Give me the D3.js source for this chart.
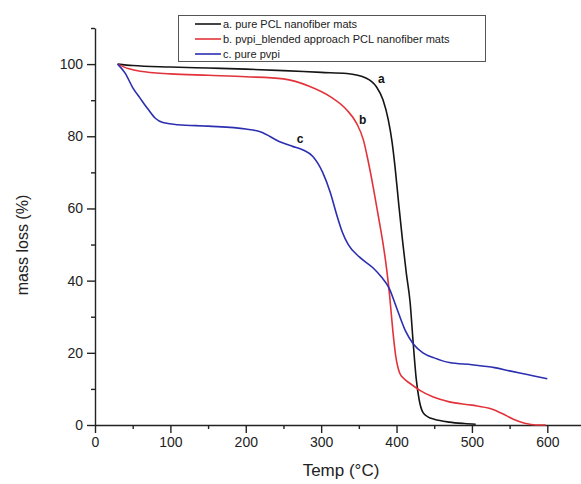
<!DOCTYPE html>
<html><head><meta charset="utf-8">
<script src="https://cdn.jsdelivr.net/npm/d3@7"></script>
<style>html,body{margin:0;padding:0;background:#fff;}svg{display:block;font-family:"Liberation Sans",Arial,sans-serif;}</style>
</head><body><svg id="c" width="581" height="484"></svg>
<script>
const seriesNames = ["a. pure PCL nanofiber mats","b. pvpi_blended approach PCL nanofiber mats","c. pure pvpi"];
const seriesLabels = ["a","b","c"];
const seriesColors = ["#151515","#e2333a","#2b2fb0"];
const pclA = [[30,100],[50,99.6],[100,99.2],[150,98.9],[200,98.6],[250,98.2],[300,97.7],[334,97.4],[360,96.1],[373,93.8],[382,90.1],[389,84.6],[394,78.5],[398,71.5],[403,61],[408,51],[413,42],[418,34],[422,23],[426,13],[430,7],[435,3.5],[442,2.2],[450,1.6],[470,0.8],[490,0.4],[505,0.2]];
const blendB = [[30,100],[45,98.7],[60,98],[100,97.3],[150,96.9],[200,96.5],[250,95.9],[285,93.8],[312,91],[334,87.3],[347,83.6],[356,79],[362,73.5],[369,66],[376,57.7],[382,50.4],[387,43],[391,35.5],[395,26.3],[399,19],[404,14.5],[410,12.8],[418,11.5],[431,9.6],[448,7.8],[470,6.4],[500,5.5],[525,4.5],[540,3.2],[555,1.6],[570,0.5],[585,0],[598,0]];
const pvpiC = [[30,100],[40,97.5],[50,93.5],[60,90.5],[70,87.6],[80,85],[90,83.8],[110,83.2],[150,82.8],[200,82],[220,81.2],[245,78.5],[262,77.2],[276,76.2],[289,74.4],[302,70],[312,64.5],[321,58],[328,53.5],[336,50],[351,46.5],[369,43.5],[380,41],[390,38],[400,32.5],[412,26],[422,22.5],[435,20],[450,18.6],[470,17.3],[500,16.7],[530,15.9],[550,15],[575,13.9],[600,12.8]];
const labelPos = [[380,95.8],[355,84.7],[272,79.3]];
const xMajor = [0,100,200,300,400,500,600];
const xMinor = [50,150,250,350,450,550,650];
const yMajor = [0,20,40,60,80,100];
const yMinor = [10,30,50,70,90,110];

const series = [pclA, blendB, pvpiC];
const svg = d3.select("#c");
const x = d3.scaleLinear().domain([0,650]).range([95,585]);
const y = d3.scaleLinear().domain([0,110]).range([425,28]);

// minor ticks
svg.append("g").attr("transform","translate(0,425)")
  .call(d3.axisBottom(x).tickValues(xMinor).tickSize(4).tickFormat(""))
  .call(g=>g.select(".domain").remove());
svg.append("g").attr("transform","translate(95,0)")
  .call(d3.axisLeft(y).tickValues(yMinor).tickSize(4).tickFormat(""))
  .call(g=>g.select(".domain").remove());
// major axes
svg.append("g").attr("transform","translate(0,425)")
  .call(d3.axisBottom(x).tickValues(xMajor).tickSize(8).tickSizeOuter(0).tickPadding(4));
svg.append("g").attr("transform","translate(95,0)")
  .call(d3.axisLeft(y).tickValues(yMajor).tickSize(8).tickSizeOuter(0).tickPadding(4));
svg.selectAll(".tick line, .domain").attr("stroke","#222").attr("stroke-width",1.4);
svg.selectAll(".tick text").attr("font-size",14).attr("fill","#222").attr("font-family","Liberation Sans, Arial, sans-serif");

// lines
const line = d3.line().x(d=>x(d[0])).y(d=>y(d[1])).curve(d3.curveMonotoneX);
series.forEach((s,i)=>{
  svg.append("path").datum(s).attr("d",line).attr("fill","none")
    .attr("stroke",seriesColors[i]).attr("stroke-width",1.6);
});
// curve labels
labelPos.forEach((p,i)=>{
  svg.append("text").attr("x",x(p[0])).attr("y",y(p[1])).attr("text-anchor","middle")
    .attr("dy","0.35em").attr("font-size",12).attr("font-weight","bold").attr("fill","#111").text(seriesLabels[i]);
});

// legend
const lg = svg.append("g");
lg.append("rect").attr("x",178.5).attr("y",15.5).attr("width",307).attr("height",46)
  .attr("fill","#fff").attr("stroke","#555").attr("stroke-width",1);
seriesNames.forEach((n,i)=>{
  const yy = 24 + i*15;
  lg.append("line").attr("x1",195).attr("x2",221).attr("y1",yy).attr("y2",yy)
    .attr("stroke",seriesColors[i]).attr("stroke-width",1.6);
  lg.append("text").attr("x",223).attr("y",yy).attr("dy","0.35em").attr("font-size",11)
    .attr("fill","#222").text(n);
});

// axis titles
svg.append("text").attr("transform","translate(22,245) rotate(-90)").attr("text-anchor","middle")
  .attr("dy","0.35em").attr("font-size",16).attr("fill","#222").text("mass loss (%)");
svg.append("text").attr("x",341).attr("y",476).attr("text-anchor","middle")
  .attr("font-size",17).attr("fill","#222").text("Temp (°C)");
</script></body></html>
